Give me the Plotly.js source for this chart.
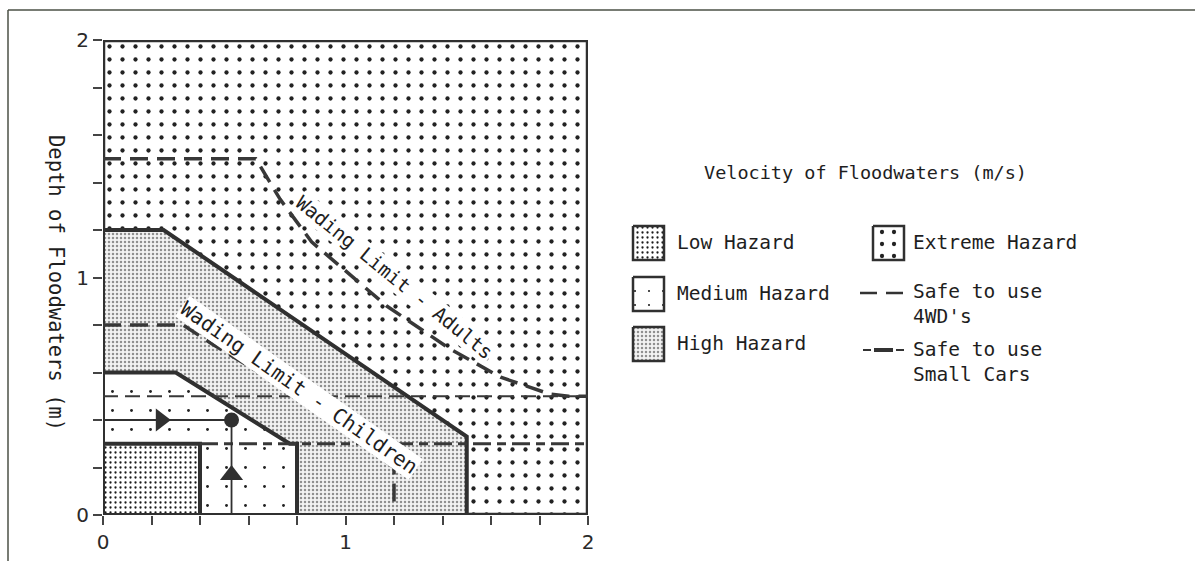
<!DOCTYPE html>
<html>
<head>
<meta charset="utf-8">
<script src="https://cdn.plot.ly/plotly-3.0.1.min.js"></script>
<style>html,body{margin:0;padding:0;background:#fff;}#chart{width:1195px;height:561px;}</style>
</head>
<body>
<div id="chart"></div>
<script>
// ---- data (depth m vs velocity m/s) ----
const extremeX = [0, 0, 2, 2, 0];
const extremeY = [0, 2, 2, 0, 0];
const highX = [0, 0, 0.25, 1.5, 1.5, 0];
const highY = [0, 1.2, 1.2, 0.33, 0, 0];
const mediumX = [0, 0, 0.3, 0.77, 0.8, 0.8, 0];
const mediumY = [0, 0.6, 0.6, 0.3, 0.3, 0, 0];
const lowX = [0, 0, 0.4, 0.4, 0];
const lowY = [0, 0.3, 0.3, 0, 0];
const adultsX = [0, 0.63, 0.73, 0.86, 1.17, 1.43, 1.64, 1.84, 1.92, 2];
const adultsY = [1.5, 1.5, 1.33, 1.15, 0.88, 0.70, 0.58, 0.51, 0.5, 0.5];
const childrenX = [0, 0.33, 0.45, 0.87, 1.14, 1.2, 1.2];
const childrenY = [0.8, 0.8, 0.72, 0.46, 0.245, 0.2, 0.02];
const fourWDX = [0, 2];
const fourWDY = [0.5, 0.5];
const smallCarsX = [0.4, 2];
const smallCarsY = [0.3, 0.3];
const exampleVelocity = 0.53;
const exampleDepth = 0.4;
const tickVals = [0, 0.2, 0.4, 0.6, 0.8, 1, 1.2, 1.4, 1.6, 1.8, 2];
const tickText = ['0', '', '', '', '', '1', '', '', '', '', '2'];
const labels = {
  xTitle: 'Velocity of Floodwaters (m/s)',
  yTitle: 'Depth of Floodwaters (m)',
  adults: 'Wading Limit - Adults',
  children: 'Wading Limit - Children',
  low: 'Low Hazard', medium: 'Medium Hazard', high: 'High Hazard', extreme: 'Extreme Hazard',
  fourWD: 'Safe to use<br>4WD\'s', cars: 'Safe to use<br>Small Cars'
};

// ---- styles ----
const INK = '#303030';
const TXT = '#1e1e1e';
const FONT = 'DejaVu Sans Mono, monospace';
const W = 1195, H = 561;
const patExtreme = {shape: '.', size: 13, solidity: 0.085, fgcolor: '#222', bgcolor: '#ffffff'};
const patHigh = {shape: '.', size: 4, solidity: 0.3, fgcolor: '#909090', bgcolor: '#f3f3f3'};
const patMedium = {shape: '.', size: 19, solidity: 0.018, fgcolor: '#222', bgcolor: '#ffffff'};
const patLow = {shape: '.', size: 5, solidity: 0.16, fgcolor: '#1a1a1a', bgcolor: '#ffffff'};

function region(x, y, pat, lw, name) {
  return {x: x, y: y, type: 'scatter', mode: 'lines', fill: 'toself', name: name,
    fillcolor: 'rgba(0,0,0,0)', fillpattern: pat,
    line: {color: INK, width: lw}, hoverinfo: 'skip', showlegend: false};
}
function dline(x, y, w, dash, name) {
  return {x: x, y: y, type: 'scatter', mode: 'lines', name: name,
    line: {color: '#383838', width: w, dash: dash}, hoverinfo: 'skip', showlegend: false};
}

const traces = [
  region(extremeX, extremeY, patExtreme, 4.5, 'Extreme Hazard'),
  region(highX, highY, patHigh, 4, 'High Hazard'),
  region(mediumX, mediumY, patMedium, 4, 'Medium Hazard'),
  region(lowX, lowY, patLow, 4, 'Low Hazard'),
  dline(fourWDX, fourWDY, 2, '15px,7px', 'Safe to use 4WDs'),
  dline(smallCarsX, smallCarsY, 3, '18px,6px,9px,6px', 'Safe to use Small Cars'),
  dline(adultsX, adultsY, 3.5, '18px,9px', 'Wading Limit - Adults'),
  dline(childrenX, childrenY, 3.5, '18px,9px', 'Wading Limit - Children'),
  // example arrows
  {x: [0, exampleVelocity], y: [exampleDepth, exampleDepth], type: 'scatter', mode: 'lines',
   line: {color: INK, width: 1.8}, hoverinfo: 'skip', showlegend: false},
  {x: [exampleVelocity, exampleVelocity], y: [0, exampleDepth], type: 'scatter', mode: 'lines',
   line: {color: INK, width: 1.8}, hoverinfo: 'skip', showlegend: false},
  {x: [exampleVelocity * 0.45], y: [exampleDepth], type: 'scatter', mode: 'markers',
   marker: {symbol: 'triangle-right', size: 20, color: INK}, hoverinfo: 'skip', showlegend: false},
  {x: [exampleVelocity], y: [exampleDepth * 0.42], type: 'scatter', mode: 'markers',
   marker: {symbol: 'triangle-up', size: 20, color: INK}, hoverinfo: 'skip', showlegend: false},
  {x: [exampleVelocity], y: [exampleDepth], type: 'scatter', mode: 'markers',
   marker: {symbol: 'circle', size: 15, color: INK}, hoverinfo: 'skip', showlegend: false}
];

// ---- legend (drawn on a pixel-scaled helper axis) ----
const LX0 = 600, LX1 = 1190, LY0 = 130, LY1 = 420;
function swatch(x0, y0, pat) {
  const w = 31, h = 34;
  return {x: [x0, x0 + w, x0 + w, x0, x0], y: [y0, y0, y0 + h, y0 + h, y0],
    type: 'scatter', mode: 'lines', fill: 'toself', fillcolor: 'rgba(0,0,0,0)', fillpattern: pat,
    line: {color: INK, width: 2.5}, xaxis: 'x2', yaxis: 'y2', hoverinfo: 'skip', showlegend: false};
}
traces.push(swatch(633, 226, patLow));
traces.push(swatch(633, 277, Object.assign({}, patMedium, {size: 14})));
traces.push(swatch(633, 327, patHigh));
traces.push(swatch(873, 226, Object.assign({}, patExtreme, {size: 12, solidity: 0.1})));

function ann(text, x, y, opts) {
  return Object.assign({text: text, x: x, y: y, xref: 'x2', yref: 'y2', showarrow: false,
    xanchor: 'left', yanchor: 'middle', font: {family: FONT, size: 19.5, color: TXT}}, opts || {});
}
const annotations = [
  ann(labels.xTitle, 865, 173, {xanchor: 'center', font: {family: FONT, size: 18.5, color: TXT}}),
  ann(labels.low, 675, 243),
  ann(labels.medium, 675, 293),
  ann(labels.high, 675, 343),
  ann(labels.extreme, 911, 243),
  ann(labels.fourWD, 911, 304, {align: 'left'}),
  ann(labels.cars, 911, 362, {align: 'left'}),
  {text: labels.yTitle, x: 42 / W, y: 1 - 283 / H, xref: 'paper', yref: 'paper', showarrow: false,
   textangle: 90, font: {family: FONT, size: 20.5, color: TXT}},
  {text: labels.adults, x: 1.2, y: 1.0, xref: 'x', yref: 'y', showarrow: false, textangle: 39,
   bgcolor: '#ffffff', borderpad: 0, font: {family: FONT, size: 19.5, color: TXT}},
  {text: labels.children, x: 0.81, y: 0.535, xref: 'x', yref: 'y', showarrow: false, textangle: 35,
   bgcolor: '#ffffff', borderpad: 0, font: {family: FONT, size: 20.5, color: TXT}}
];

const shapes = [
  // outer frame of the scanned figure
  {type: 'line', xref: 'paper', yref: 'paper', x0: 8 / W, x1: 1, y0: 1 - 10 / H, y1: 1 - 10 / H,
   line: {color: '#4b5046', width: 1.5}},
  {type: 'line', xref: 'paper', yref: 'paper', x0: 8 / W, x1: 8 / W, y0: 0, y1: 1 - 10 / H,
   line: {color: '#4b5046', width: 1.5}},
  // legend line samples
  {type: 'line', xref: 'x2', yref: 'y2', x0: 860, x1: 905, y0: 293, y1: 293,
   line: {color: '#333', width: 2.5, dash: '17px,9px'}},
  {type: 'line', xref: 'x2', yref: 'y2', x0: 863, x1: 905, y0: 350, y1: 350,
   line: {color: '#333', width: 1.8, dash: '8px,3px'}},
  {type: 'line', xref: 'x2', yref: 'y2', x0: 874, x1: 893, y0: 350, y1: 350,
   line: {color: '#333', width: 4}}
];

const axisCommon = {range: [0, 2], tickvals: tickVals, ticktext: tickText, ticks: 'outside',
  ticklen: 9, tickwidth: 2, tickcolor: '#444', showgrid: false, zeroline: false, showline: false,
  fixedrange: true, tickfont: {family: 'DejaVu Sans, sans-serif', size: 20, color: '#2a2a2a'}};

const layout = {
  width: W, height: H,
  margin: {l: 0, r: 0, t: 0, b: 0, pad: 0},
  paper_bgcolor: '#ffffff', plot_bgcolor: 'rgba(0,0,0,0)',
  showlegend: false,
  font: {family: FONT, color: TXT},
  xaxis: Object.assign({domain: [103 / W, 588 / W], anchor: 'y'}, axisCommon),
  yaxis: Object.assign({domain: [46 / H, 521 / H], anchor: 'x'}, axisCommon),
  xaxis2: {domain: [LX0 / W, LX1 / W], range: [LX0, LX1], anchor: 'y2', visible: false, fixedrange: true},
  yaxis2: {domain: [1 - LY1 / H, 1 - LY0 / H], range: [LY1, LY0], anchor: 'x2', visible: false, fixedrange: true},
  annotations: annotations,
  shapes: shapes
};

Plotly.newPlot('chart', traces, layout, {staticPlot: true, displayModeBar: false});
</script>
</body>
</html>
